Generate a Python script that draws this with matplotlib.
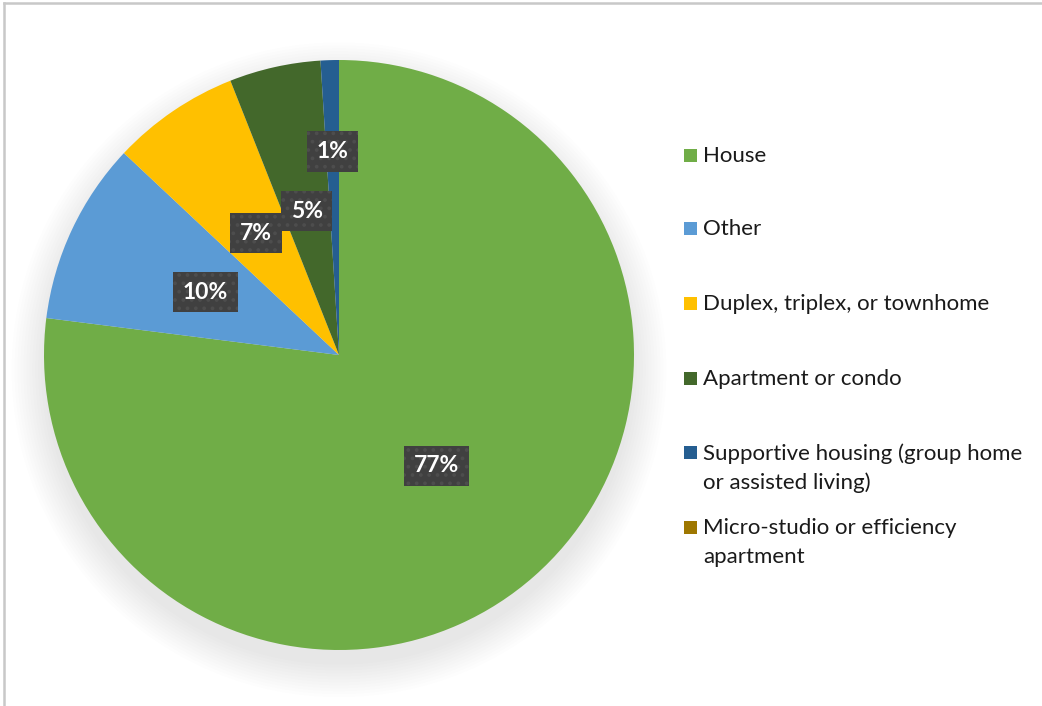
import numpy as np
import matplotlib.pyplot as plt
from matplotlib.patches import Rectangle, Circle
from matplotlib.lines import Line2D

plt.rcParams['font.family'] = ['Lato', 'DejaVu Sans']
plt.rcParams['hatch.linewidth'] = 1.5

# housing type shares (%)
categories = ['House', 'Other', 'Duplex, triplex, or townhome', 'Apartment or condo',
              'Supportive housing (group home\nor assisted living)',
              'Micro-studio or efficiency\napartment']
shares = [77, 10, 7, 5, 1, 0]
colors = ['#70AD47', '#5B9BD5', '#FFC000', '#43682B', '#255E91', '#9E7700']

fig = plt.figure(figsize=(10.42, 7.06), dpi=100)

# pie axes: centre near (339, 355) px, radius 295 px
ax = fig.add_axes([44 / 1042, 56 / 706, 590 / 1042, 590 / 706])
ax.axis('off')

wedges, _ = ax.pie(shares, colors=colors, startangle=90, counterclock=False,
                   radius=1, wedgeprops=dict(linewidth=0))
for w in wedges:
    w.set_zorder(2)
ax.set_xlim(-1, 1)
ax.set_ylim(-1, 1)
ax.set_aspect('equal')

# soft shadow behind the pie
for i in range(12):
    r = 1.0 + 0.01 * i
    ax.add_patch(Circle((0, -0.05), r, color='#000000', alpha=0.006,
                        lw=0, clip_on=False, zorder=0))

# percentage labels on dark boxes
label_dist = [0.5, 0.5, 0.5, 0.5, 0.69, 0.5]
for w, val, d in zip(wedges, shares, label_dist):
    if val == 0:
        continue
    ang = np.deg2rad((w.theta1 + w.theta2) / 2)
    ax.text(d * np.cos(ang), d * np.sin(ang), f'{val}%', ha='center', va='center',
            color='white', fontsize=16.5, fontweight='bold', zorder=5,
            bbox=dict(boxstyle='square,pad=0.42', facecolor='#404040',
                      edgecolor='#4d4d4d', linewidth=0, hatch='..'))

# legend entries
legend_y = [156, 229, 304, 379, 453, 528]
for label, c, y in zip(categories, colors, legend_y):
    fig.patches.append(Rectangle((684 / 1042, 1 - (y + 6) / 706), 13 / 1042, 13 / 706,
                                 transform=fig.transFigure, facecolor=c, edgecolor='none'))
    fig.text(703 / 1042, 1 - (y - 10) / 706, label, ha='left', va='top',
             fontsize=16, color='#1a1a1a', linespacing=1.56)

# chart frame (top and left edges)
fig.add_artist(Line2D([4 / 1042, 4 / 1042], [0, 1 - 3 / 706], transform=fig.transFigure,
                      color='#c8c8c8', lw=1.8))
fig.add_artist(Line2D([4 / 1042, 1], [1 - 3 / 706, 1 - 3 / 706], transform=fig.transFigure,
                      color='#c8c8c8', lw=1.8))

fig.savefig('out.png', dpi=100)
